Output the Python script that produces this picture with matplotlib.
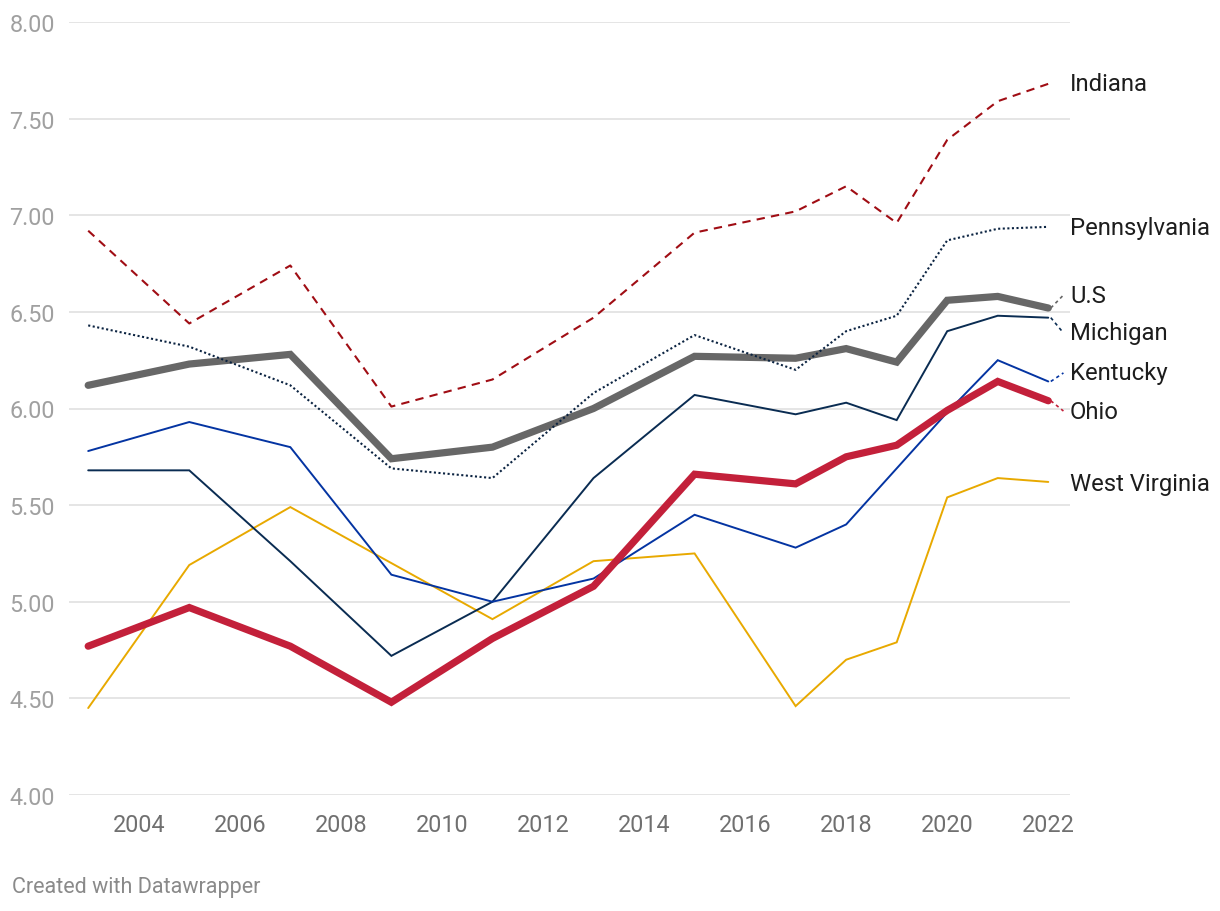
import matplotlib.pyplot as plt

years = [2003, 2005, 2007, 2009, 2011, 2013, 2015, 2017, 2018, 2019, 2020, 2021, 2022]

indiana = [6.92, 6.44, 6.74, 6.01, 6.15, 6.47, 6.91, 7.02, 7.15, 6.96, 7.39, 7.59, 7.68]
pennsylvania = [6.43, 6.32, 6.12, 5.69, 5.64, 6.08, 6.38, 6.20, 6.40, 6.48, 6.87, 6.93, 6.94]
us = [6.12, 6.23, 6.28, 5.74, 5.80, 6.00, 6.27, 6.26, 6.31, 6.24, 6.56, 6.58, 6.52]
michigan = [5.68, 5.68, 5.21, 4.72, 5.00, 5.64, 6.07, 5.97, 6.03, 5.94, 6.40, 6.48, 6.47]
kentucky = [5.78, 5.93, 5.80, 5.14, 5.00, 5.12, 5.45, 5.28, 5.40, 5.69, 5.98, 6.25, 6.14]
ohio = [4.77, 4.97, 4.77, 4.48, 4.81, 5.08, 5.66, 5.61, 5.75, 5.81, 5.99, 6.14, 6.04]
west_virginia = [4.45, 5.19, 5.49, 5.20, 4.91, 5.21, 5.25, 4.46, 4.70, 4.79, 5.54, 5.64, 5.62]

y_ticks = [4.0, 4.5, 5.0, 5.5, 6.0, 6.5, 7.0, 7.5, 8.0]
x_ticks = [2004, 2006, 2008, 2010, 2012, 2014, 2016, 2018, 2020, 2022]

plt.rcParams["font.family"] = ["Roboto", "DejaVu Sans"]

# name, values, color, width, style, zorder, label y (layout)
series = [
    ("Indiana", indiana, "#a00d14", 1.5, (0, (4, 3)), 3, 7.684),
    ("Pennsylvania", pennsylvania, "#0b2341", 1.5, (0, (1, 1.2)), 5, 6.939),
    ("U.S", us, "#676767", 5.2, "-", 4, 6.587),
    ("Michigan", michigan, "#0a2c52", 1.4, "-", 3, 6.391),
    ("Kentucky", kentucky, "#0434a2", 1.4, "-", 3, 6.184),
    ("Ohio", ohio, "#c3203a", 5.2, "-", 6, 5.987),
    ("West Virginia", west_virginia, "#e8a900", 1.4, "-", 2, 5.614),
]

fig = plt.figure(figsize=(12.2, 9.12), dpi=100)
ax = fig.add_axes([69 / 1220, 1 - 796 / 912, (1070 - 69) / 1220, (796 - 23) / 912])

for name, vals, color, lw, ls, z, label_y in series:
    ax.plot(years, vals, color=color, lw=lw, ls=ls, zorder=z,
            solid_capstyle="round", solid_joinstyle="miter", clip_on=False)
    end = vals[-1]
    if abs(label_y - end) > 0.03:
        ax.plot([2022.05, 2022.3], [end, label_y], color=color, lw=1.2,
                ls=(0, (2, 2)), clip_on=False, zorder=z)
    ax.text(2022.43, label_y, name, fontsize=17.2, color="#1d1d1d",
            va="center", ha="left", clip_on=False)

ax.set_xlim(2002.62, 2022.43)
ax.set_ylim(4.0, 8.0)
ax.set_yticks(y_ticks)
ax.set_yticklabels([f"{v:.2f}" for v in y_ticks], fontsize=16.8, color="#a0a0a0")
ax.set_xticks(x_ticks)
ax.set_xticklabels([str(x) for x in x_ticks], fontsize=16.8, color="#707070")
ax.tick_params(axis="both", length=0)
ax.tick_params(axis="y", pad=10)
ax.tick_params(axis="x", pad=13)
ax.grid(axis="y", color="#e3e3e3", lw=1.3, zorder=0)
ax.set_axisbelow(True)
for s in ax.spines.values():
    s.set_visible(False)

fig.text(12 / 1220, 1 - 888 / 912, "Created with Datawrapper", fontsize=15.5,
         color="#8a8a8a", va="center", ha="left")

fig.savefig("out.png", dpi=100)
